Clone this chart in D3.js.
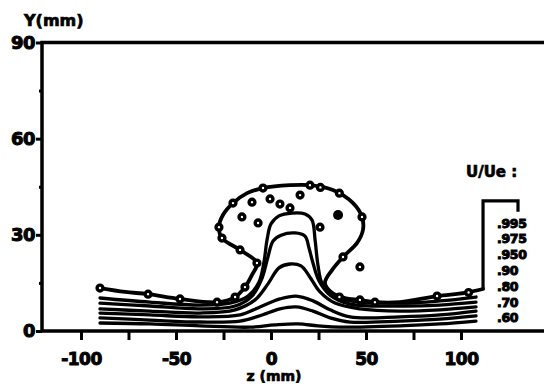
<!DOCTYPE html>
<html>
<head>
<meta charset="utf-8">
<script src="https://cdn.jsdelivr.net/npm/d3@7"></script>
<style>
body { margin: 0; background: #fff; }
text { font-family: "DejaVu Sans", sans-serif; font-weight: bold; fill: #000; }
</style>
</head>
<body>
<div class="plot"></div>
<script>
// tick values
const xTicks = [-100, -75, -50, -25, 0, 25, 50, 75, 100];
const xLabels = [-100, -50, 0, 50, 100];
const yTicks = [0, 15, 30, 45, 60, 75, 90];
const yLabels = [0, 30, 60, 90];
const levels = [".995", ".975", ".950", ".90", ".80", ".70", ".60"];

// iso-velocity lines, [z (mm), Y (mm)]
const u995 = [[-90,13.4],[-76.8,12.2],[-64.7,11.5],[-47.9,10.0],[-28.4,9.0],[-18.9,10.6],[-13.7,13.7],[-10.0,17.5],[-7.4,21.2],[-16.3,25.3],[-25.8,29.0],[-27.4,32.4],[-25.3,36.2],[-20.0,39.9],[-12.6,43.0],[-4.2,44.6],[10.0,45.5],[20.5,45.5],[32.6,44.0],[43.2,39.9],[47.9,35.6],[48.4,31.5],[45.3,27.5],[37.9,23.1],[32.1,19.0],[28.4,15.0],[32.1,11.9],[38.9,10.3],[46.8,9.7],[54.7,9.0],[67.9,9.0],[87.4,10.9],[102.1,11.9],[111.6,13.1]];
const u975 = [[-90,10.3],[-63.7,9.0],[-37.4,8.1],[-21.6,8.7],[-12.1,10.9],[-6.3,15.3],[-3.7,21.5],[-2.1,28.4],[0,33.4],[4.2,35.9],[11.1,36.8],[17.9,36.5],[21.6,34.6],[23.2,28.4],[24.7,20.6],[26.8,15.0],[32.1,11.2],[41.6,9.4],[67.9,8.7],[88.9,9.4],[107.9,10.6]];
const u950 = [[-90,8.7],[-63.7,7.8],[-37.4,6.9],[-18.9,7.8],[-10.0,10.9],[-4.7,16.5],[-1.6,23.1],[1.1,28.1],[5.3,29.9],[12.6,30.6],[17.9,29.6],[20.0,25.9],[22.1,21.2],[25.3,15.6],[31.1,11.2],[41.6,8.4],[67.9,7.8],[88.9,8.1],[107.9,9.0]];
const u90 = [[-90,6.9],[-63.7,6.2],[-37.4,5.6],[-18.9,6.6],[-8.4,9.7],[-1.6,14.7],[4.2,19.7],[10.0,20.9],[15.8,20.3],[20.5,16.8],[25.8,12.2],[33.7,8.7],[46.8,6.9],[67.9,6.2],[88.9,6.6],[107.9,7.5]];
const u80 = [[-90,5.6],[-63.7,5.0],[-37.4,4.4],[-16.3,5.0],[-5.8,7.5],[4.7,10.0],[13.2,10.9],[22.1,9.4],[31.1,6.6],[41.6,4.4],[67.9,4.4],[88.9,5.0],[107.9,6.2]];
const u70 = [[-90,4.1],[-63.7,3.4],[-37.4,2.8],[-16.3,3.1],[-4.7,5.0],[4.7,6.9],[13.2,7.5],[22.1,6.2],[31.1,4.1],[41.6,2.8],[67.9,3.1],[88.9,3.7],[107.9,4.7]];
const u60 = [[-90,2.5],[-63.7,2.2],[-37.4,1.6],[-11.1,1.2],[2.1,1.9],[14.2,2.2],[24.7,1.6],[36.3,1.2],[67.9,1.6],[88.9,2.2],[107.9,3.1]];

// measured points
const edgePoints = [[-90,13.4],[-64.7,11.5],[-47.9,10.0],[-28.4,9.0],[-18.9,10.6],[-13.7,13.7],[-7.4,21.2],[-16.3,25.3],[-25.8,29.0],[-27.4,32.4],[-20.0,39.9],[-4.2,44.6],[20.5,45.5],[26,44.8],[36,43],[47.9,35.6],[37.9,23.1],[36,10.6],[46.8,9.7],[54.7,9.0],[87.4,10.9],[104,12]];
const innerPoints = [[-10.0,40.2],[-0.5,41.2],[-15.3,35.6],[-6.8,33.7],[4.7,39.6],[10.0,38.4],[15.3,42.4],[25.8,32.4],[46.8,20.0]];
const solidPoints = [[35.3,36.2]];
const leader = [[111.6,13.1],[111.6,40.6],[130,40.6],[130,37.2]];

const width = 544;
const height = 384;

const x = d3.scaleLinear().domain([-100, 100]).range([81, 461]);
const y = d3.scaleLinear().domain([0, 90]).range([331, 42.5]);

const svg = d3.select('.plot')
    .append('svg')
    .attr('width', width)
    .attr('height', height);

// frame
const left = 42;
svg.append('path')
    .attr('d', `M${width},${y(90)}H${left}V${y(0)}H${width}`)
    .attr('fill', 'none')
    .attr('stroke', 'black')
    .attr('stroke-width', 3.5);

// x axis
const xAxis = svg.append('g')
    .attr('transform', `translate(0,${y(0)})`)
    .call(d3.axisBottom(x)
        .tickValues(xTicks)
        .tickSize(9)
        .tickPadding(13)
        .tickFormat(d => xLabels.includes(d) ? String(d) : ''));
xAxis.select('.domain').remove();
xAxis.selectAll('line').attr('stroke', 'black').attr('stroke-width', 3);
xAxis.selectAll('text')
    .attr('font-size', 17)
    .attr('font-family', '"DejaVu Sans", sans-serif')
    .attr('font-weight', 'bold')
    .attr('stroke', 'black')
    .attr('stroke-width', 1)
    .attr('letter-spacing', -0.5);

// y axis
const yAxis = svg.append('g')
    .attr('transform', `translate(${left},0)`)
    .call(d3.axisLeft(y)
        .tickValues(yTicks)
        .tickSize(6)
        .tickPadding(1)
        .tickFormat(d => yLabels.includes(d) ? String(d) : ''));
yAxis.select('.domain').remove();
yAxis.selectAll('line')
    .attr('stroke', 'black')
    .attr('stroke-width', 3)
    .attr('x2', d => yLabels.includes(d) ? -6 : -3);
yAxis.selectAll('text')
    .attr('font-size', 18)
    .attr('font-family', '"DejaVu Sans", sans-serif')
    .attr('font-weight', 'bold')
    .attr('stroke', 'black')
    .attr('stroke-width', 1)
    .attr('letter-spacing', -0.5);

// titles
svg.append('text')
    .attr('x', 24)
    .attr('y', 26)
    .attr('font-size', 16)
    .attr('stroke', 'black')
    .attr('stroke-width', 0.7)
    .text('Y(mm)');

svg.append('text')
    .attr('x', 274)
    .attr('y', 381)
    .attr('text-anchor', 'middle')
    .attr('font-size', 14)
    .attr('stroke', 'black')
    .attr('stroke-width', 0.7)
    .text('z (mm)');

// iso-lines
const line = d3.line()
    .x(d => x(d[0]))
    .y(d => y(d[1]))
    .curve(d3.curveCatmullRom.alpha(0.5));

const curves = [u995, u975, u950, u90, u80, u70, u60];

svg.selectAll('.iso')
    .data(curves)
    .enter()
    .append('path')
    .attr('class', 'iso')
    .attr('d', line)
    .attr('fill', 'none')
    .attr('stroke', 'black')
    .attr('stroke-width', function(d, i){
        return i == 0 ? 3.8 : 3.3;
    })
    .attr('stroke-linejoin', 'round')
    .attr('stroke-linecap', 'round');

svg.append('path')
    .attr('d', d3.line().x(d => x(d[0])).y(d => y(d[1]))(leader))
    .attr('fill', 'none')
    .attr('stroke', 'black')
    .attr('stroke-width', 3.2);

// markers
const allPoints = edgePoints.concat(innerPoints);
svg.selectAll('.pt')
    .data(allPoints)
    .enter()
    .append('circle')
    .attr('class', 'pt')
    .attr('cx', d => x(d[0]))
    .attr('cy', d => y(d[1]))
    .attr('r', 2.9)
    .attr('fill', 'white')
    .attr('stroke', 'black')
    .attr('stroke-width', 3.4);

svg.selectAll('.solid')
    .data(solidPoints)
    .enter()
    .append('circle')
    .attr('class', 'solid')
    .attr('cx', d => x(d[0]))
    .attr('cy', d => y(d[1]))
    .attr('r', 5)
    .attr('fill', 'black');

// legend
svg.append('text')
    .attr('x', 466)
    .attr('y', 177)
    .attr('font-size', 15)
    .attr('stroke', 'black')
    .attr('stroke-width', 0.7)
    .text('U/Ue :');

svg.selectAll('.lev')
    .data(levels)
    .enter()
    .append('text')
    .attr('class', 'lev')
    .attr('x', 497)
    .attr('y', (d, i) => 223 + i * 15.8)
    .attr('dy', '0.36em')
    .attr('font-size', 12.5)
    .attr('letter-spacing', -0.3)
    .attr('stroke', 'black')
    .attr('stroke-width', 1)
    .text(d => d);
</script>
</body>
</html>
